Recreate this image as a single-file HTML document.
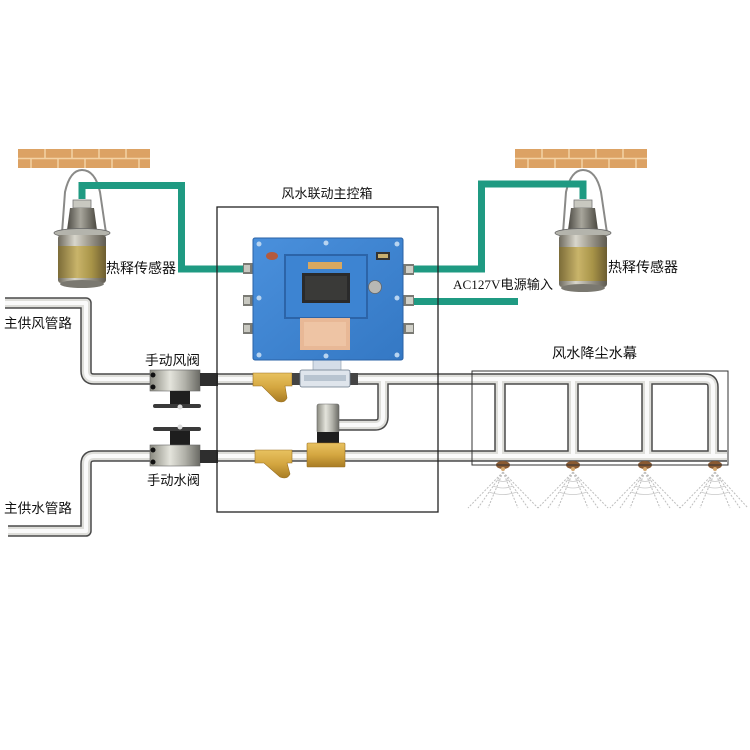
<!DOCTYPE html>
<html><head><meta charset="utf-8"><style>
html,body{margin:0;padding:0;background:#fff;}
svg{display:block;}
text{font-family:"Liberation Sans","Noto Sans CJK SC",sans-serif;fill:#111;}
</style></head><body>
<svg width="750" height="750" viewBox="0 0 750 750" xmlns="http://www.w3.org/2000/svg">
<defs>
<linearGradient id="cyl" x1="0" x2="1" y1="0" y2="0">
<stop offset="0" stop-color="#6e6a5e"/><stop offset="0.35" stop-color="#d8d6cc"/><stop offset="0.6" stop-color="#a8a498"/><stop offset="1" stop-color="#5e5a50"/></linearGradient>
<linearGradient id="gold" x1="0" x2="1" y1="0" y2="0">
<stop offset="0" stop-color="#7c6c38"/><stop offset="0.4" stop-color="#c9b46a"/><stop offset="0.7" stop-color="#a89448"/><stop offset="1" stop-color="#6c5c30"/></linearGradient>
<linearGradient id="neck" x1="0" x2="1" y1="0" y2="0">
<stop offset="0" stop-color="#4c4a44"/><stop offset="0.45" stop-color="#a8a69c"/><stop offset="1" stop-color="#4a4840"/></linearGradient>
<linearGradient id="silver" x1="0" x2="1" y1="0" y2="0">
<stop offset="0" stop-color="#8a8a80"/><stop offset="0.4" stop-color="#e4e4dc"/><stop offset="0.7" stop-color="#b0b0a8"/><stop offset="1" stop-color="#6a6a64"/></linearGradient>
<linearGradient id="brass" x1="0" x2="0" y1="0" y2="1">
<stop offset="0" stop-color="#e8c260"/><stop offset="0.5" stop-color="#d4a640"/><stop offset="1" stop-color="#a87c24"/></linearGradient>
<linearGradient id="blue" x1="0" x2="1" y1="0" y2="1">
<stop offset="0" stop-color="#4a90dc"/><stop offset="1" stop-color="#3478c4"/></linearGradient>
</defs>

<!-- brick walls -->
<g>
<rect x="18" y="149" width="132" height="19" fill="#dca264"/>
<line x1="18" y1="158.5" x2="150" y2="158.5" stroke="#f3d2a4" stroke-width="1.5"/>
<g stroke="#f3d2a4" stroke-width="1.5">
<line x1="45" y1="149" x2="45" y2="158"/><line x1="72" y1="149" x2="72" y2="158"/><line x1="99" y1="149" x2="99" y2="158"/><line x1="126" y1="149" x2="126" y2="158"/>
<line x1="31" y1="159" x2="31" y2="168"/><line x1="58" y1="159" x2="58" y2="168"/><line x1="85" y1="159" x2="85" y2="168"/><line x1="112" y1="159" x2="112" y2="168"/><line x1="139" y1="159" x2="139" y2="168"/>
</g>
<rect x="515" y="149" width="132" height="19" fill="#dca264"/>
<line x1="515" y1="158.5" x2="647" y2="158.5" stroke="#f3d2a4" stroke-width="1.5"/>
<g stroke="#f3d2a4" stroke-width="1.5">
<line x1="542" y1="149" x2="542" y2="158"/><line x1="569" y1="149" x2="569" y2="158"/><line x1="596" y1="149" x2="596" y2="158"/><line x1="623" y1="149" x2="623" y2="158"/>
<line x1="528" y1="159" x2="528" y2="168"/><line x1="555" y1="159" x2="555" y2="168"/><line x1="582" y1="159" x2="582" y2="168"/><line x1="609" y1="159" x2="609" y2="168"/><line x1="636" y1="159" x2="636" y2="168"/>
</g>
</g>

<!-- sensors -->
<g>
<path d="M62 233 L65 192 Q70 170 82 170 Q95 170 100 192 L106 233" stroke="#8a8a88" stroke-width="2" fill="none"/>
<rect x="73" y="200" width="18" height="8" fill="#c8c8c0" stroke="#777" stroke-width="0.8"/>
<path d="M70 208 H94 L97 230 H67 Z" fill="url(#neck)"/>
<ellipse cx="82" cy="233" rx="28" ry="4.5" fill="#b4b4ac" stroke="#666" stroke-width="0.8"/>
<rect x="58" y="235" width="48" height="48" rx="3" fill="url(#cyl)"/>
<rect x="58" y="246" width="48" height="32" fill="url(#gold)"/>
<ellipse cx="82" cy="284" rx="22" ry="4" fill="#7a7870"/>
</g>
<g transform="translate(501,0)">
<path d="M62 233 L65 192 Q70 170 82 170 Q95 170 100 192 L106 233" stroke="#8a8a88" stroke-width="2" fill="none"/>
<rect x="73" y="200" width="18" height="8" fill="#c8c8c0" stroke="#777" stroke-width="0.8"/>
<path d="M70 208 H94 L97 230 H67 Z" fill="url(#neck)"/>
<ellipse cx="82" cy="233" rx="28" ry="4.5" fill="#b4b4ac" stroke="#666" stroke-width="0.8"/>
<rect x="58" y="235" width="48" height="52" rx="3" fill="url(#cyl)"/>
<rect x="58" y="247" width="48" height="34" fill="url(#gold)"/>
<ellipse cx="82" cy="288" rx="22" ry="4" fill="#7a7870"/>
</g>

<!-- green wires -->
<g fill="none" stroke="#1f9a82" stroke-width="7" stroke-linejoin="miter">
<path d="M82 199 V185.5 H181.5 V269 H250"/>
<path d="M410 269 H481.5 V184 H583 V199"/>
<path d="M410 301.5 H518"/>
</g>

<!-- pipes -->
<g fill="none" stroke-linejoin="round">
<g stroke="#4a4a4a" stroke-width="11.5">
<path d="M5 303 H86 V371 Q86 379 94 379 H705 Q713 379 713 387 V456"/>
<path d="M8 531 H86 V464 Q86 456 94 456 H727"/>
<path d="M500 379 V456 M573 379 V456 M647 379 V456"/>
<path d="M383 379 V417 Q383 425 375 425 H338"/>
</g>
<g stroke="#dededa" stroke-width="8.5">
<path d="M5 303 H86 V371 Q86 379 94 379 H705 Q713 379 713 387 V456"/>
<path d="M8 531 H86 V464 Q86 456 94 456 H727"/>
<path d="M500 379 V456 M573 379 V456 M647 379 V456"/>
<path d="M383 379 V417 Q383 425 375 425 H338"/>
</g>
<g stroke="#fafafa" stroke-width="4">
<path d="M5 303 H86 V371 Q86 379 94 379 H705 Q713 379 713 387 V456"/>
<path d="M8 531 H86 V464 Q86 456 94 456 H727"/>
<path d="M500 379 V456 M573 379 V456 M647 379 V456"/>
<path d="M383 379 V417 Q383 425 375 425 H338"/>
</g>
</g>

<!-- manual valves -->
<g>
<rect x="150" y="370" width="50" height="21" fill="url(#silver)" stroke="#666" stroke-width="0.6"/>
<circle cx="153" cy="375" r="2.5" fill="#111"/><circle cx="153" cy="387" r="2.5" fill="#111"/>
<rect x="200" y="373" width="18" height="13" fill="#2e2e2e"/>
<rect x="170" y="391" width="20" height="13" fill="#1e1e1e"/>
<rect x="153" y="404" width="48" height="4" rx="2" fill="#3a3a3a"/>
<circle cx="180" cy="407" r="2.5" fill="#ddd"/>
<rect x="153" y="427" width="48" height="4" rx="2" fill="#3a3a3a"/>
<circle cx="180" cy="427" r="2.5" fill="#ddd"/>
<rect x="170" y="431" width="20" height="14" fill="#1e1e1e"/>
<rect x="150" y="445" width="50" height="21" fill="url(#silver)" stroke="#666" stroke-width="0.6"/>
<circle cx="153" cy="450" r="2.5" fill="#111"/><circle cx="153" cy="462" r="2.5" fill="#111"/>
<rect x="200" y="450" width="18" height="13" fill="#2e2e2e"/>
</g>

<!-- Y strainers -->
<g>
<path d="M253 373 H292 V386 H285 L287 398 Q284 404 277 401 L262 386 H253 Z" fill="url(#brass)" stroke="#9a7020" stroke-width="0.6"/>
<path d="M255 450 H292 V463 H287 L290 474 Q287 480 280 477 L264 463 H255 Z" fill="url(#brass)" stroke="#9a7020" stroke-width="0.6"/>
</g>

<!-- flow switch -->
<g>
<rect x="292" y="373" width="9" height="12" fill="#444"/>
<rect x="349" y="373" width="9" height="12" fill="#444"/>
<rect x="313" y="360" width="28" height="12" fill="#d4dde8" stroke="#8898a8" stroke-width="0.6"/>
<rect x="300" y="370" width="50" height="17" rx="2" fill="#dfe5ec" stroke="#6a7888" stroke-width="0.8"/>
<rect x="304" y="375" width="42" height="6" fill="#b8c4d0"/>
</g>

<!-- solenoid valve -->
<g>
<rect x="317" y="404" width="22" height="29" rx="2" fill="url(#silver)" stroke="#666" stroke-width="0.6"/>
<rect x="317" y="432" width="22" height="11" fill="#1e1e1e"/>
<rect x="307" y="443" width="38" height="24" rx="1" fill="url(#brass)" stroke="#9a7020" stroke-width="0.6"/>
</g>

<!-- blue control box -->
<g>
<rect x="243" y="263" width="11" height="11" fill="#7a7a74"/><rect x="244" y="265" width="6" height="7" fill="#c8c8c0"/>
<rect x="243" y="295" width="11" height="11" fill="#7a7a74"/><rect x="244" y="297" width="6" height="7" fill="#c8c8c0"/>
<rect x="243" y="323" width="11" height="11" fill="#7a7a74"/><rect x="244" y="325" width="6" height="7" fill="#c8c8c0"/>
<rect x="401" y="264" width="13" height="11" fill="#7a7a74"/><rect x="406" y="266" width="7" height="7" fill="#d0d0c8"/>
<rect x="401" y="295" width="13" height="11" fill="#7a7a74"/><rect x="406" y="297" width="7" height="7" fill="#d0d0c8"/>
<rect x="401" y="323" width="13" height="11" fill="#7a7a74"/><rect x="406" y="325" width="7" height="7" fill="#d0d0c8"/>
<rect x="253" y="238" width="150" height="122" rx="2" fill="url(#blue)" stroke="#2a62a6" stroke-width="1"/>
<g fill="#b8d4f0">
<circle cx="259" cy="244" r="2.5"/><circle cx="326" cy="243" r="2.5"/><circle cx="397" cy="244" r="2.5"/>
<circle cx="259" cy="298" r="2.5"/><circle cx="397" cy="298" r="2.5"/>
<circle cx="259" cy="355" r="2.5"/><circle cx="326" cy="356" r="2.5"/><circle cx="397" cy="355" r="2.5"/>
</g>
<rect x="285" y="255" width="82" height="63" fill="#3d84d2" stroke="#2c64a8" stroke-width="2"/>
<rect x="308" y="262" width="34" height="7" fill="#d8a860"/>
<rect x="302" y="273" width="48" height="30" fill="#2a2a2a"/>
<rect x="305" y="276" width="42" height="24" fill="#3a3a38"/>
<circle cx="375" cy="287" r="6.5" fill="#b8b8b4" stroke="#666" stroke-width="0.8"/>
<rect x="300" y="318" width="50" height="32" fill="#e8b896"/>
<rect x="304" y="322" width="42" height="24" fill="#eec4a4"/>
<ellipse cx="272" cy="256" rx="6" ry="4" fill="#b45a3c"/>
<rect x="376" y="252" width="14" height="8" fill="#333"/><rect x="378" y="254" width="10" height="4" fill="#c8b070"/>
</g>

<!-- nozzles and sprays -->
<g>
<g stroke="#bdbdbd" stroke-width="1" fill="none" stroke-dasharray="2 1.5">
<path d="M503 472 L468 508 M503 472 L538 508 M503 472 L488 508 M503 472 L518 508 M503 472 L478 508 M503 472 L528 508"/>
<path d="M573 472 L538 508 M573 472 L608 508 M573 472 L558 508 M573 472 L588 508 M573 472 L548 508 M573 472 L598 508"/>
<path d="M645 472 L610 508 M645 472 L680 508 M645 472 L630 508 M645 472 L660 508 M645 472 L620 508 M645 472 L670 508"/>
<path d="M715 472 L680 508 M715 472 L748 508 M715 472 L700 508 M715 472 L730 508 M715 472 L690 508 M715 472 L740 508"/>
</g>
<g stroke="#c8c8c8" stroke-width="0.8" fill="none">
<path d="M497 480 Q503 483 509 480 M493 486 Q503 490 513 486 M489 492 Q503 497 517 492"/>
<path d="M567 480 Q573 483 579 480 M563 486 Q573 490 583 486 M559 492 Q573 497 587 492"/>
<path d="M639 480 Q645 483 651 480 M635 486 Q645 490 655 486 M631 492 Q645 497 659 492"/>
<path d="M709 480 Q715 483 721 480 M705 486 Q715 490 725 486 M701 492 Q715 497 729 492"/>
</g>
<g fill="#8a5a32">
<ellipse cx="503" cy="465" rx="7" ry="4"/><ellipse cx="573" cy="465" rx="7" ry="4"/>
<ellipse cx="645" cy="465" rx="7" ry="4"/><ellipse cx="715" cy="465" rx="7" ry="4"/>
</g>
<g fill="#d4a870">
<circle cx="503" cy="469" r="2"/><circle cx="573" cy="469" r="2"/><circle cx="645" cy="469" r="2"/><circle cx="715" cy="469" r="2"/>
</g>
</g>

<!-- outlines -->
<rect x="217" y="207" width="221" height="305" fill="none" stroke="#222" stroke-width="1.3"/>
<rect x="472" y="371" width="256" height="94" fill="none" stroke="#333" stroke-width="1"/>

<!-- labels -->
<text x="327" y="198" font-size="13" text-anchor="middle">风水联动主控箱</text>
<text x="106" y="273" font-size="14" textLength="70" lengthAdjust="spacingAndGlyphs">热释传感器</text>
<text x="608" y="272" font-size="14" textLength="70" lengthAdjust="spacingAndGlyphs">热释传感器</text>
<text x="453" y="289" font-size="13" textLength="100" lengthAdjust="spacingAndGlyphs"><tspan font-family="Liberation Serif, serif">AC127V</tspan>电源输入</text>
<text x="4" y="328" font-size="13.5" textLength="68" lengthAdjust="spacingAndGlyphs">主供风管路</text>
<text x="4" y="513" font-size="13.5" textLength="68" lengthAdjust="spacingAndGlyphs">主供水管路</text>
<text x="145" y="365" font-size="13.5" textLength="55" lengthAdjust="spacingAndGlyphs">手动风阀</text>
<text x="147" y="485" font-size="13.5" textLength="53" lengthAdjust="spacingAndGlyphs">手动水阀</text>
<text x="552" y="358" font-size="14" textLength="85" lengthAdjust="spacingAndGlyphs">风水降尘水幕</text>
</svg>
</body></html>
